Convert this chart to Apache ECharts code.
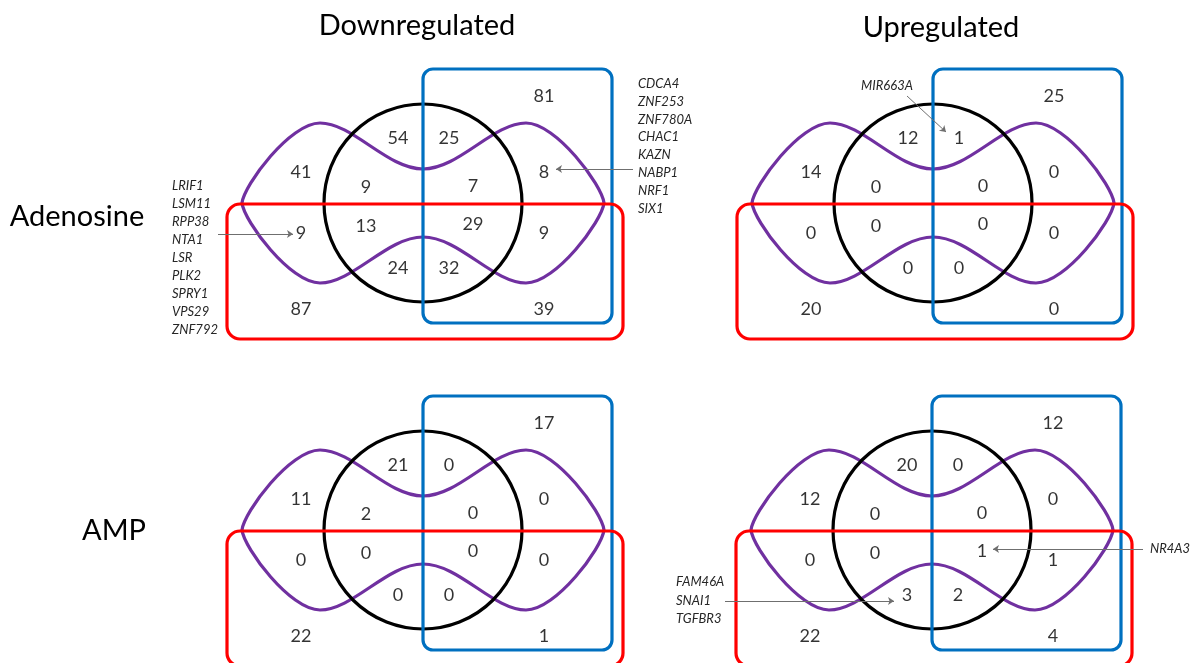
<!DOCTYPE html>
<html><head><meta charset="utf-8">
<script src="https://cdn.jsdelivr.net/npm/echarts@6/dist/echarts.min.js"></script>
<style>html,body{margin:0;padding:0;background:#fff}#c{width:1199px;height:663px}</style>
</head><body><div id="c"></div>
<script>
// ---------- DATA ----------
const columnTitles = ['Downregulated', 'Upregulated'];
const rowTitles = ['Adenosine', 'AMP'];
// region order: blueOnly, purpleCircleTopL, purpleCircleTopR, purpleLeftTop, circleLeftTop, circleRightTop, purpleRightTop,
// purpleLeftBottom, circleLeftBottom, circleRightBottom, purpleRightBottom, purpleCircleBotL, purpleCircleBotR, redOnly, redBlue
const adenosineDown = [81, 54, 25, 41, 9, 7, 8, 9, 13, 29, 9, 24, 32, 87, 39];
const adenosineUp   = [25, 12, 1, 14, 0, 0, 0, 0, 0, 0, 0, 0, 0, 20, 0];
const ampDown       = [17, 21, 0, 11, 2, 0, 0, 0, 0, 0, 0, 0, 0, 22, 1];
const ampUp         = [12, 20, 0, 12, 0, 0, 0, 0, 0, 1, 1, 3, 2, 22, 4];
const genesAdenosineDownLeft  = ['LRIF1', 'LSM11', 'RPP38', 'NTA1', 'LSR', 'PLK2', 'SPRY1', 'VPS29', 'ZNF792'];
const genesAdenosineDownRight = ['CDCA4', 'ZNF253', 'ZNF780A', 'CHAC1', 'KAZN', 'NABP1', 'NRF1', 'SIX1'];
const genesAdenosineUp        = ['MIR663A'];
const genesAmpUpRight         = ['NR4A3'];
const genesAmpUpLeft          = ['FAM46A', 'SNAI1', 'TGFBR3'];

// ---------- LAYOUT ----------
const panels = [adenosineDown, adenosineUp, ampDown, ampUp];
const PANEL_CENTERS = [[423, 203], [933, 203], [423, 530], [932, 530]];
const XR = [-260, 260], YR = [-130, 130];
const ANCHORS = [[121,-107],[-25,-65],[26,-65],[-122,-31],[-57,-16],[50,-17],[121,-31],
                 [-122,30],[-57,23],[50,21],[121,30],[-25,65],[26,65],[-122,106],[121,106]];
const FONT = 'Lato';
const PURPLE = '#7030A0', BLUE = '#0070C0', RED = '#FF0000', BLACK = '#000000';
const LW = 3.2;

const PURPLE_PATH = [
  ['M', -181, 0],
  ['C', -179, -18, -133, -80, -103, -80],
  ['C', -70, -80, -36, -34, 0, -34],
  ['C', 36, -34, 70, -80, 103, -80],
  ['C', 133, -80, 179, -18, 181, 0],
  ['C', 179, 18, 133, 80, 103, 80],
  ['C', 70, 80, 36, 34, 0, 34],
  ['C', -36, 34, -70, 80, -103, 80],
  ['C', -133, 80, -179, 18, -181, 0]
];

function renderShapes(params, api) {
  const k = params.dataIndex;
  const P = (x, y) => api.coord([x, y]);
  if (k === 0) {
    let d = '';
    PURPLE_PATH.forEach(seg => {
      d += seg[0];
      for (let i = 1; i < seg.length; i += 2) { const p = P(seg[i], seg[i + 1]); d += ' ' + p[0].toFixed(2) + ' ' + p[1].toFixed(2); }
      d += ' ';
    });
    d += 'Z';
    return { type: 'path', shape: { pathData: d }, style: { fill: null, stroke: PURPLE, lineWidth: LW } };
  }
  if (k === 1) {
    const c = P(0, 0), e = P(99, 0);
    return { type: 'circle', shape: { cx: c[0], cy: c[1], r: e[0] - c[0] }, style: { fill: null, stroke: BLACK, lineWidth: LW } };
  }
  if (k === 2) {
    const a = P(0, -134), b = P(189, 120);
    return { type: 'rect', shape: { x: a[0], y: a[1], width: b[0] - a[0], height: b[1] - a[1], r: 10 }, style: { fill: null, stroke: BLUE, lineWidth: LW } };
  }
  const a = P(-196, 1), b = P(200, 136);
  return { type: 'rect', shape: { x: a[0], y: a[1], width: b[0] - a[0], height: b[1] - a[1], r: 13 }, style: { fill: null, stroke: RED, lineWidth: LW } };
}

const grid = [], xAxis = [], yAxis = [], series = [];
PANEL_CENTERS.forEach((c, i) => {
  grid.push({ left: c[0] + XR[0], top: c[1] + YR[0], width: XR[1] - XR[0], height: YR[1] - YR[0] });
  xAxis.push({ type: 'value', gridIndex: i, min: XR[0], max: XR[1], show: false });
  yAxis.push({ type: 'value', gridIndex: i, min: YR[0], max: YR[1], inverse: true, show: false });
  series.push({
    type: 'custom', xAxisIndex: i, yAxisIndex: i, renderItem: renderShapes, clip: false, silent: true,
    data: [[0, 0], [0, 0], [0, 0], [0, 0]]
  });
  series.push({
    type: 'scatter', xAxisIndex: i, yAxisIndex: i, symbolSize: 0, silent: true, z: 5,
    data: panels[i].map((v, j) => [ANCHORS[j][0], ANCHORS[j][1], v]),
    label: { show: true, position: 'inside', formatter: p => String(p.value[2]), color: '#000', fontSize: 18, fontFamily: FONT }
  });
});

// annotation arrows (panel-relative)
const ARROWS = [
  [0, [[-205, 31], [-130, 31]]],
  [0, [[210, -34], [133, -34]]],
  [1, [[-26, -107], [13, -71]]],
  [3, [[211, 19], [61, 19]]],
  [3, [[-207, 71], [-38, 71]]]
];
ARROWS.forEach(a => {
  series.push({
    type: 'lines', coordinateSystem: 'cartesian2d', xAxisIndex: a[0], yAxisIndex: a[0], silent: true, z: 6,
    symbol: ['none', 'arrow'], symbolSize: 6,
    lineStyle: { color: '#6f6f6f', width: 1, opacity: 1 },
    data: [{ coords: a[1] }]
  });
});

const geneStyle = { fontFamily: FONT, fontStyle: 'italic', fontSize: 13, fill: '#262626', lineHeight: 18 };
function geneText(list, x, y, lh, align) {
  return { type: 'text', x: x, y: y, style: Object.assign({}, geneStyle, { text: list.join('\n'), lineHeight: lh, align: align || 'left', verticalAlign: 'top' }) };
}
const titleStyle = { fontFamily: FONT, fontSize: 29, fill: '#000' };
const graphic = [
  { type: 'text', x: 417, y: 26, style: Object.assign({ text: columnTitles[0], align: 'center', verticalAlign: 'middle' }, titleStyle) },
  { type: 'text', x: 941, y: 28, style: Object.assign({ text: columnTitles[1], align: 'center', verticalAlign: 'middle' }, titleStyle) },
  { type: 'text', x: 77, y: 217, style: Object.assign({ text: rowTitles[0], align: 'center', verticalAlign: 'middle' }, titleStyle) },
  { type: 'text', x: 114, y: 531, style: Object.assign({ text: rowTitles[1], align: 'center', verticalAlign: 'middle' }, titleStyle) },
  geneText(genesAdenosineDownLeft, 172, 177, 18),
  geneText(genesAdenosineDownRight, 638, 75, 17.8),
  geneText(genesAdenosineUp, 887, 77, 18, 'center'),
  geneText(genesAmpUpRight, 1150, 540, 18),
  geneText(genesAmpUpLeft, 676, 573, 18.5)
];

const chart = echarts.init(document.getElementById('c'), null, { renderer: 'canvas' });
chart.setOption({ animation: false, backgroundColor: '#fff', grid, xAxis, yAxis, series, graphic });
</script></body></html>
